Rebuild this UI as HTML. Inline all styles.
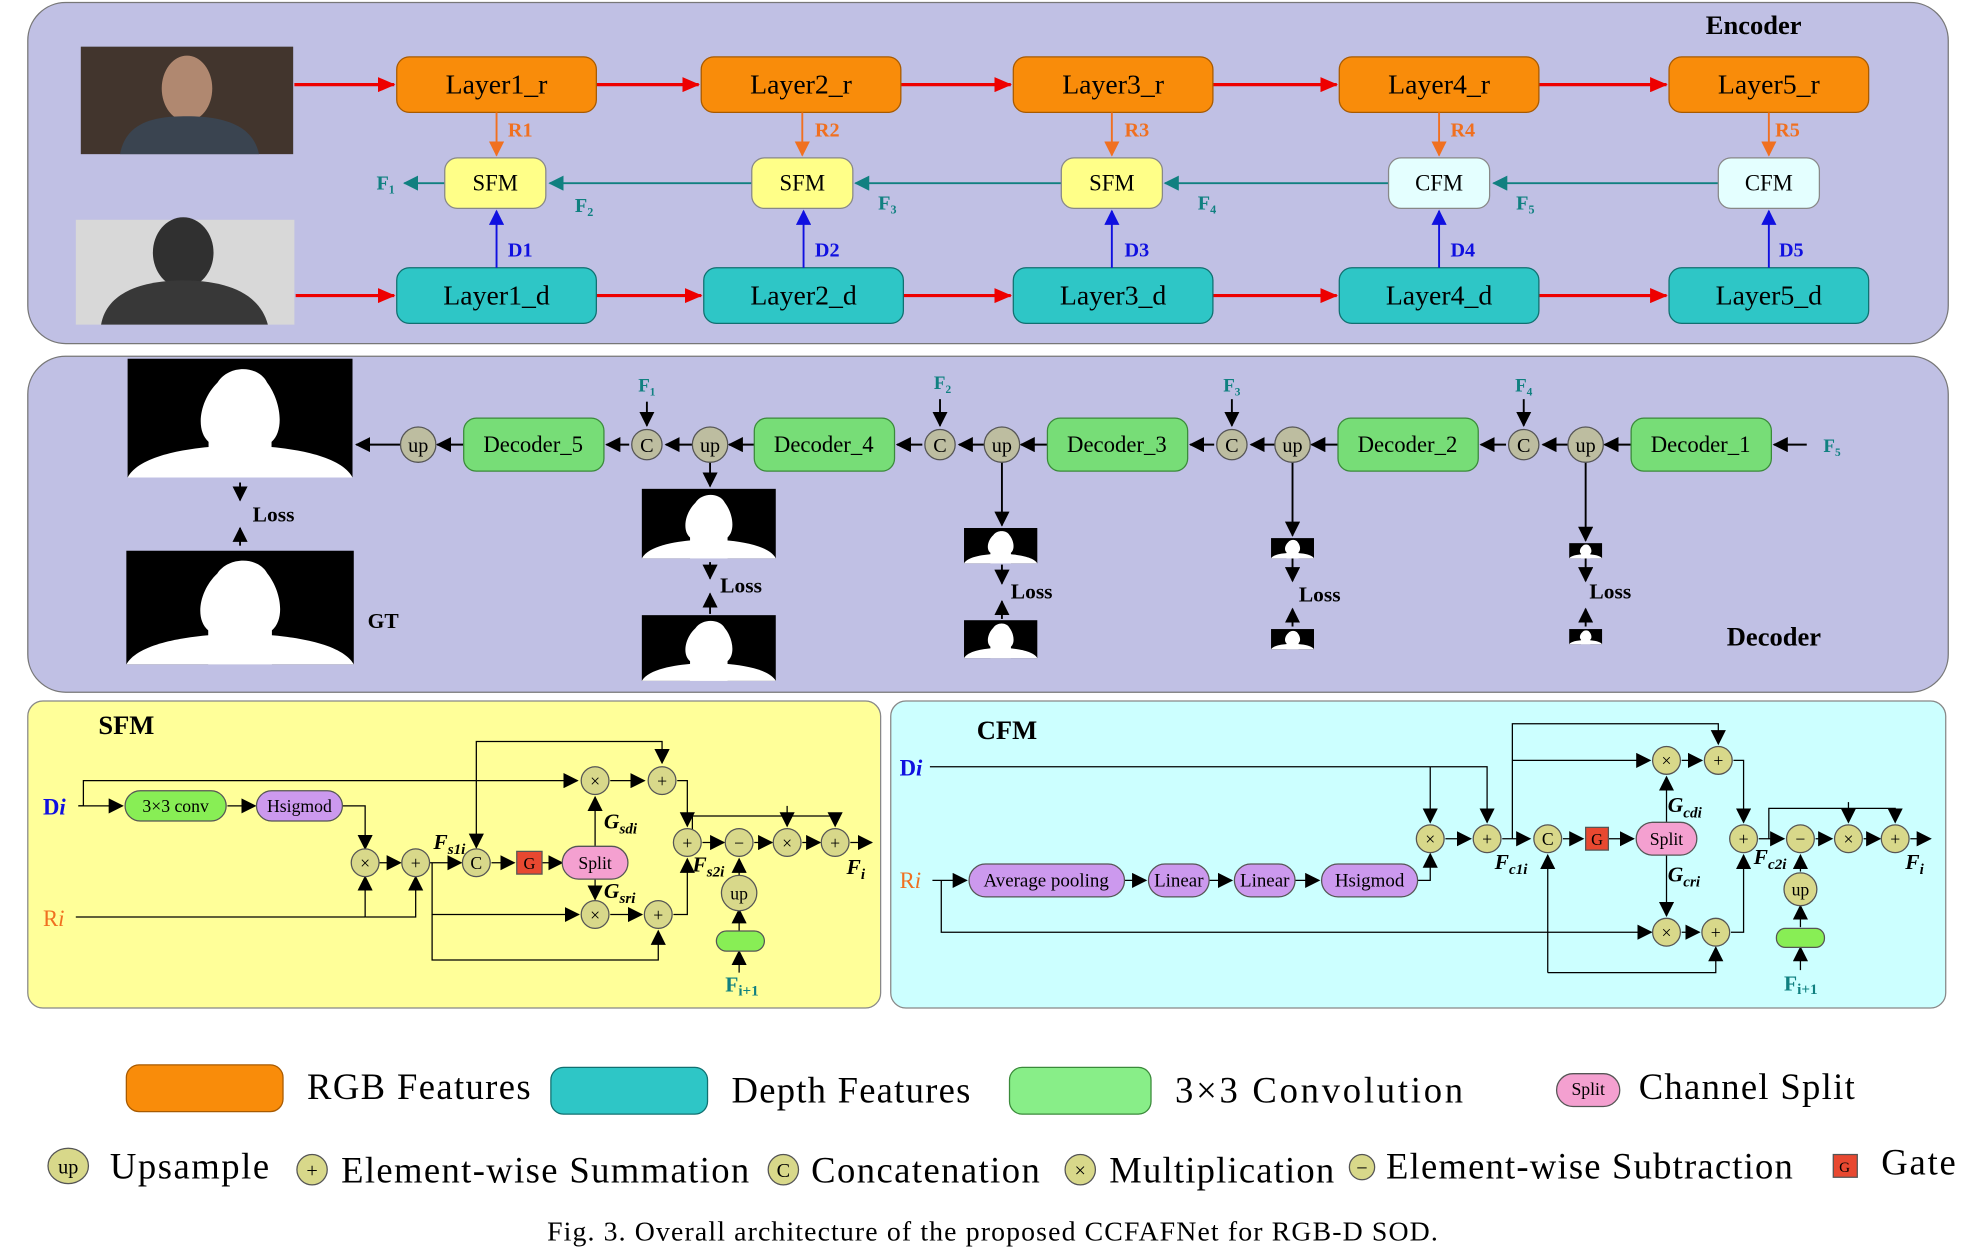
<!DOCTYPE html>
<html><head><meta charset="utf-8"><style>
html,body{margin:0;padding:0;background:#fff;}
svg{display:block;}
text{font-family:"Liberation Serif",serif;}
</style></head><body>
<svg width="1971" height="1248" viewBox="0 0 1560 988" preserveAspectRatio="none" xmlns="http://www.w3.org/2000/svg">
<defs>
<marker id="ab" markerWidth="14" markerHeight="12" refX="13" refY="6" orient="auto" markerUnits="userSpaceOnUse"><path d="M0,0L14,6L0,12z" fill="#e00"/></marker>
<marker id="ao" markerWidth="12" markerHeight="12" refX="11" refY="6" orient="auto" markerUnits="userSpaceOnUse"><path d="M0,0L12,6L0,12z" fill="#f07020"/></marker>
<marker id="au" markerWidth="12" markerHeight="12" refX="11" refY="6" orient="auto" markerUnits="userSpaceOnUse"><path d="M0,0L12,6L0,12z" fill="#1010e0"/></marker>
<marker id="at" markerWidth="12" markerHeight="12" refX="11" refY="6" orient="auto" markerUnits="userSpaceOnUse"><path d="M0,0L12,6L0,12z" fill="#108080"/></marker>
<marker id="ak" markerWidth="12" markerHeight="12" refX="11" refY="6" orient="auto" markerUnits="userSpaceOnUse"><path d="M0,0L12,6L0,12z" fill="#000"/></marker>
<g id="sil"><rect width="100" height="100" fill="#000"/><path d="M36,100 L36,70 C30,60 32,35 40,20 C45,5 58,5 62,20 C68,35 70,60 64,70 L64,100Z" fill="#fff"/><path d="M0,100 C5,82 25,76 38,74 L62,74 C75,76 95,82 100,100Z" fill="#fff"/></g>
</defs>

<rect x="22" y="2" width="1520" height="270" rx="30" fill="#c0c0e4" stroke="#777" stroke-width="1"/>
<text x="1388" y="27" font-size="21" font-weight="bold" text-anchor="middle">Encoder</text>
<rect x="64" y="37" width="168" height="85" fill="#2a2a2a"/>
<rect x="64" y="37" width="168" height="85" fill="#5a4030" opacity="0.5"/>
<ellipse cx="148" cy="70" rx="20" ry="26" fill="#b08870"/>
<path d="M95,122 C100,95 125,92 148,92 C175,92 200,98 205,122Z" fill="#3a4450"/>
<rect x="60" y="174" width="173" height="83" fill="#d8d8d8"/>
<ellipse cx="145" cy="200" rx="24" ry="28" fill="#303030"/>
<path d="M80,257 C85,228 120,222 145,222 C175,222 205,230 212,257Z" fill="#383838"/>

<g stroke="#e00" stroke-width="2.5" fill="none">
<line x1="233" y1="67" x2="312" y2="67" marker-end="url(#ab)"/>
<line x1="472" y1="67" x2="553" y2="67" marker-end="url(#ab)"/>
<line x1="713" y1="67" x2="800" y2="67" marker-end="url(#ab)"/>
<line x1="960" y1="67" x2="1058" y2="67" marker-end="url(#ab)"/>
<line x1="1218" y1="67" x2="1319" y2="67" marker-end="url(#ab)"/>
<line x1="234" y1="234" x2="312" y2="234" marker-end="url(#ab)"/>
<line x1="472" y1="234" x2="555" y2="234" marker-end="url(#ab)"/>
<line x1="715" y1="234" x2="800" y2="234" marker-end="url(#ab)"/>
<line x1="960" y1="234" x2="1058" y2="234" marker-end="url(#ab)"/>
<line x1="1218" y1="234" x2="1319" y2="234" marker-end="url(#ab)"/>
</g>
<g fill="#f98c0a" stroke="#a85a00">
<rect x="314" y="45" width="158" height="44" rx="10"/><rect x="555" y="45" width="158" height="44" rx="10"/><rect x="802" y="45" width="158" height="44" rx="10"/><rect x="1060" y="45" width="158" height="44" rx="10"/><rect x="1321" y="45" width="158" height="44" rx="10"/>
</g>
<g fill="#2ec6c6" stroke="#107070">
<rect x="314" y="212" width="158" height="44" rx="10"/><rect x="557" y="212" width="158" height="44" rx="10"/><rect x="802" y="212" width="158" height="44" rx="10"/><rect x="1060" y="212" width="158" height="44" rx="10"/><rect x="1321" y="212" width="158" height="44" rx="10"/>
</g>
<g font-size="22" text-anchor="middle">
<text x="393" y="74">Layer1_r</text><text x="634" y="74">Layer2_r</text><text x="881" y="74">Layer3_r</text><text x="1139" y="74">Layer4_r</text><text x="1400" y="74">Layer5_r</text>
<text x="393" y="241">Layer1_d</text><text x="636" y="241">Layer2_d</text><text x="881" y="241">Layer3_d</text><text x="1139" y="241">Layer4_d</text><text x="1400" y="241">Layer5_d</text>
</g>
<g stroke="#f07020" stroke-width="1.5"><line x1="393" y1="89" x2="393" y2="123" marker-end="url(#ao)"/><line x1="635" y1="89" x2="635" y2="123" marker-end="url(#ao)"/><line x1="880" y1="89" x2="880" y2="123" marker-end="url(#ao)"/><line x1="1139" y1="89" x2="1139" y2="123" marker-end="url(#ao)"/><line x1="1400" y1="89" x2="1400" y2="123" marker-end="url(#ao)"/></g>
<g stroke="#1010e0" stroke-width="1.5"><line x1="393" y1="212" x2="393" y2="167" marker-end="url(#au)"/><line x1="636" y1="212" x2="636" y2="167" marker-end="url(#au)"/><line x1="880" y1="212" x2="880" y2="167" marker-end="url(#au)"/><line x1="1139" y1="212" x2="1139" y2="167" marker-end="url(#au)"/><line x1="1400" y1="212" x2="1400" y2="167" marker-end="url(#au)"/></g>
<g stroke="#108080" stroke-width="1.5"><line x1="1360" y1="145" x2="1182" y2="145" marker-end="url(#at)"/><line x1="1099" y1="145" x2="922" y2="145" marker-end="url(#at)"/><line x1="840" y1="145" x2="677" y2="145" marker-end="url(#at)"/><line x1="595" y1="145" x2="435" y2="145" marker-end="url(#at)"/><line x1="352" y1="145" x2="320" y2="145" marker-end="url(#at)"/></g>
<g stroke="#888" stroke-width="1">
<rect x="352" y="125" width="80" height="40" rx="10" fill="#ffff88"/><rect x="595" y="125" width="80" height="40" rx="10" fill="#ffff88"/><rect x="840" y="125" width="80" height="40" rx="10" fill="#ffff88"/><rect x="1099" y="125" width="80" height="40" rx="10" fill="#e4ffff"/><rect x="1360" y="125" width="80" height="40" rx="10" fill="#e4ffff"/>
</g>
<g font-size="18" text-anchor="middle"><text x="392" y="151">SFM</text><text x="635" y="151">SFM</text><text x="880" y="151">SFM</text><text x="1139" y="151">CFM</text><text x="1400" y="151">CFM</text></g>
<g font-size="16" font-weight="bold" fill="#f07020"><text x="402" y="108">R1</text><text x="645" y="108">R2</text><text x="890" y="108">R3</text><text x="1148" y="108">R4</text><text x="1405" y="108">R5</text></g>
<g font-size="16" font-weight="bold" fill="#1010e0"><text x="402" y="203">D1</text><text x="645" y="203">D2</text><text x="890" y="203">D3</text><text x="1148" y="203">D4</text><text x="1408" y="203">D5</text></g>
<g font-size="16" font-weight="bold" fill="#108080"><text x="298" y="150">F₁</text><text x="455" y="168">F₂</text><text x="695" y="166">F₃</text><text x="948" y="166">F₄</text><text x="1200" y="166">F₅</text></g>

<rect x="22" y="282" width="1520" height="266" rx="30" fill="#c0c0e4" stroke="#777" stroke-width="1"/>
<text x="1404" y="511" font-size="21" font-weight="bold" text-anchor="middle">Decoder</text>
<g stroke="#000" stroke-width="1.5" fill="none">
<line x1="1430" y1="352" x2="1404" y2="352" marker-end="url(#ak)"/>
<line x1="1291" y1="352" x2="1270" y2="352" marker-end="url(#ak)"/>
<line x1="1241" y1="352" x2="1221" y2="352" marker-end="url(#ak)"/>
<line x1="1192" y1="352" x2="1172" y2="352" marker-end="url(#ak)"/>
<line x1="1059" y1="352" x2="1038" y2="352" marker-end="url(#ak)"/>
<line x1="1009" y1="352" x2="990" y2="352" marker-end="url(#ak)"/>
<line x1="961" y1="352" x2="942" y2="352" marker-end="url(#ak)"/>
<line x1="829" y1="352" x2="808" y2="352" marker-end="url(#ak)"/>
<line x1="779" y1="352" x2="759" y2="352" marker-end="url(#ak)"/>
<line x1="730" y1="352" x2="710" y2="352" marker-end="url(#ak)"/>
<line x1="597" y1="352" x2="577" y2="352" marker-end="url(#ak)"/>
<line x1="548" y1="352" x2="527" y2="352" marker-end="url(#ak)"/>
<line x1="498" y1="352" x2="480" y2="352" marker-end="url(#ak)"/>
<line x1="367" y1="352" x2="346" y2="352" marker-end="url(#ak)"/>
<line x1="317" y1="352" x2="282" y2="352" marker-end="url(#ak)"/>
<line x1="512" y1="318" x2="512" y2="337" marker-end="url(#ak)"/>
<line x1="744" y1="316" x2="744" y2="337" marker-end="url(#ak)"/>
<line x1="975" y1="316" x2="975" y2="337" marker-end="url(#ak)"/>
<line x1="1206" y1="316" x2="1206" y2="337" marker-end="url(#ak)"/>
<line x1="562" y1="366" x2="562" y2="385" marker-end="url(#ak)"/>
<line x1="793" y1="366" x2="793" y2="416" marker-end="url(#ak)"/>
<line x1="1023" y1="366" x2="1023" y2="424" marker-end="url(#ak)"/>
<line x1="1255" y1="366" x2="1255" y2="428" marker-end="url(#ak)"/>
<line x1="190" y1="382" x2="190" y2="396" marker-end="url(#ak)"/><line x1="190" y1="432" x2="190" y2="418" marker-end="url(#ak)"/>
<line x1="562" y1="445" x2="562" y2="458" marker-end="url(#ak)"/><line x1="562" y1="486" x2="562" y2="470" marker-end="url(#ak)"/>
<line x1="793" y1="447" x2="793" y2="462" marker-end="url(#ak)"/><line x1="793" y1="490" x2="793" y2="476" marker-end="url(#ak)"/>
<line x1="1023" y1="442" x2="1023" y2="460" marker-end="url(#ak)"/><line x1="1023" y1="496" x2="1023" y2="482" marker-end="url(#ak)"/>
<line x1="1255" y1="442" x2="1255" y2="460" marker-end="url(#ak)"/><line x1="1255" y1="496" x2="1255" y2="482" marker-end="url(#ak)"/>
</g>
<g fill="#77dd77" stroke="#3a8a3a">
<rect x="367" y="331" width="111" height="42" rx="10"/><rect x="597" y="331" width="111" height="42" rx="10"/><rect x="829" y="331" width="111" height="42" rx="10"/><rect x="1059" y="331" width="111" height="42" rx="10"/><rect x="1291" y="331" width="111" height="42" rx="10"/>
</g>
<g font-size="18" text-anchor="middle"><text x="422" y="358">Decoder_5</text><text x="652" y="358">Decoder_4</text><text x="884" y="358">Decoder_3</text><text x="1114" y="358">Decoder_2</text><text x="1346" y="358">Decoder_1</text></g>
<g fill="#bdbda0" stroke="#555">
<circle cx="331" cy="352" r="14"/><circle cx="512" cy="352" r="12"/><circle cx="562" cy="352" r="14"/><circle cx="744" cy="352" r="12"/><circle cx="793" cy="352" r="14"/><circle cx="975" cy="352" r="12"/><circle cx="1023" cy="352" r="14"/><circle cx="1206" cy="352" r="12"/><circle cx="1255" cy="352" r="14"/>
</g>
<g font-size="16" text-anchor="middle"><text x="331" y="358">up</text><text x="512" y="358">C</text><text x="562" y="358">up</text><text x="744" y="358">C</text><text x="793" y="358">up</text><text x="975" y="358">C</text><text x="1023" y="358">up</text><text x="1206" y="358">C</text><text x="1255" y="358">up</text></g>
<g font-size="15" font-weight="bold" fill="#108080" text-anchor="middle"><text x="512" y="310">F₁</text><text x="746" y="308">F₂</text><text x="975" y="310">F₃</text><text x="1206" y="310">F₄</text><text x="1450" y="358">F₅</text></g>
<g font-size="17" font-weight="bold"><text x="200" y="413">Loss</text><text x="570" y="469">Loss</text><text x="800" y="474">Loss</text><text x="1028" y="476">Loss</text><text x="1258" y="474">Loss</text><text x="291" y="497">GT</text></g>
<use href="#sil" transform="translate(101,284) scale(1.78,0.94)"/>
<use href="#sil" transform="translate(100,436) scale(1.8,0.9)"/>
<use href="#sil" transform="translate(508,387) scale(1.06,0.55)"/>
<use href="#sil" transform="translate(508,487) scale(1.06,0.52)"/>
<use href="#sil" transform="translate(763,418) scale(0.58,0.28)"/>
<use href="#sil" transform="translate(763,491) scale(0.58,0.3)"/>
<use href="#sil" transform="translate(1006,426) scale(0.34,0.16)"/>
<use href="#sil" transform="translate(1006,498) scale(0.34,0.16)"/>
<use href="#sil" transform="translate(1242,430) scale(0.26,0.12)"/>
<use href="#sil" transform="translate(1242,498) scale(0.26,0.12)"/>

<rect x="22" y="555" width="675" height="243" rx="12" fill="#ffff99" stroke="#888"/>
<text x="100" y="581" font-size="21" font-weight="bold" text-anchor="middle">SFM</text>
<g stroke="#000" stroke-width="1" fill="none">
<polyline points="62,638 66,638 66,618 457,618" marker-end="url(#ak)"/>
<line x1="62" y1="638" x2="97" y2="638" marker-end="url(#ak)"/>
<line x1="180" y1="638" x2="202" y2="638" marker-end="url(#ak)"/>
<polyline points="270,638 289,638 289,672" marker-end="url(#ak)"/>
<line x1="60" y1="726" x2="289" y2="726"/>
<line x1="289" y1="726" x2="289" y2="694" marker-end="url(#ak)"/>
<polyline points="289,726 329,726 329,694" marker-end="url(#ak)"/>
<line x1="300" y1="683" x2="317" y2="683" marker-end="url(#ak)"/>
<line x1="340" y1="683" x2="365" y2="683" marker-end="url(#ak)"/>
<polyline points="377,618 377,587 524,587 524,604" marker-end="url(#ak)"/>
<line x1="377" y1="618" x2="377" y2="671" marker-end="url(#ak)"/>
<line x1="389" y1="683" x2="407" y2="683" marker-end="url(#ak)"/>
<line x1="429" y1="683" x2="445" y2="683" marker-end="url(#ak)"/>
<line x1="471" y1="670" x2="471" y2="631" marker-end="url(#ak)"/>
<line x1="471" y1="696" x2="471" y2="712" marker-end="url(#ak)"/>
<line x1="483" y1="618" x2="510" y2="618" marker-end="url(#ak)"/>
<polyline points="342,683 342,724 458,724" marker-end="url(#ak)"/>
<polyline points="342,724 342,760 521,760 521,737" marker-end="url(#ak)"/>
<line x1="483" y1="724" x2="508" y2="724" marker-end="url(#ak)"/>
<polyline points="536,618 544,618 544,654" marker-end="url(#ak)"/>
<polyline points="533,724 544,724 544,680" marker-end="url(#ak)"/>
<line x1="556" y1="667" x2="573" y2="667" marker-end="url(#ak)"/>
<polyline points="548,667 548,646 661,646 661,654" marker-end="url(#ak)"/>
<line x1="623" y1="638" x2="623" y2="654" marker-end="url(#ak)"/>
<line x1="597" y1="667" x2="611" y2="667" marker-end="url(#ak)"/>
<line x1="635" y1="667" x2="649" y2="667" marker-end="url(#ak)"/>
<line x1="673" y1="667" x2="690" y2="667" marker-end="url(#ak)"/>
<line x1="585" y1="694" x2="585" y2="680" marker-end="url(#ak)"/>
<line x1="585" y1="737" x2="585" y2="720" marker-end="url(#ak)"/>
<line x1="585" y1="770" x2="585" y2="753" marker-end="url(#ak)"/>
</g>
<rect x="99" y="626" width="80" height="24" rx="12" fill="#88ee55" stroke="#555"/><text x="139" y="643" font-size="14" text-anchor="middle">3×3 conv</text>
<rect x="203" y="626" width="68" height="24" rx="12" fill="#cc99ee" stroke="#555"/><text x="237" y="643" font-size="14" text-anchor="middle">Hsigmod</text>
<rect x="409" y="674" width="20" height="18" fill="#e84830" stroke="#555"/><text x="419" y="688" font-size="13" text-anchor="middle">G</text>
<rect x="445" y="670" width="52" height="26" rx="13" fill="#f4a0d0" stroke="#555"/><text x="471" y="688" font-size="14" text-anchor="middle">Split</text>
<rect x="567" y="737" width="38" height="16" rx="8" fill="#88ee55" stroke="#555"/>
<g fill="#d8d88a" stroke="#555">
<circle cx="289" cy="683" r="11"/><circle cx="329" cy="683" r="11"/><circle cx="377" cy="683" r="11"/><circle cx="471" cy="618" r="11"/><circle cx="524" cy="618" r="11"/><circle cx="471" cy="724" r="11"/><circle cx="521" cy="724" r="11"/><circle cx="544" cy="667" r="11"/><circle cx="585" cy="667" r="11"/><circle cx="623" cy="667" r="11"/><circle cx="661" cy="667" r="11"/>
<ellipse cx="585" cy="707" rx="14" ry="14"/>
</g>
<g font-size="14" text-anchor="middle"><text x="289" y="688">×</text><text x="329" y="688">+</text><text x="377" y="688">C</text><text x="471" y="623">×</text><text x="524" y="623">+</text><text x="471" y="729">×</text><text x="521" y="729">+</text><text x="544" y="672">+</text><text x="585" y="672">−</text><text x="623" y="672">×</text><text x="661" y="672">+</text><text x="585" y="712">up</text></g>
<text x="34" y="645" font-size="18" font-weight="bold" fill="#1010e0">D<tspan font-style="italic">i</tspan></text>
<text x="34" y="733" font-size="18" fill="#f07020">R<tspan font-style="italic">i</tspan></text>
<g font-size="17" font-weight="bold" font-style="italic"><text x="343" y="672">F<tspan font-size="12" dy="4">s1i</tspan></text><text x="478" y="656">G<tspan font-size="12" dy="4">sdi</tspan></text><text x="478" y="711">G<tspan font-size="12" dy="4">sri</tspan></text><text x="548" y="690">F<tspan font-size="12" dy="4">s2i</tspan></text><text x="670" y="692">F<tspan font-size="12" dy="4">i</tspan></text></g>
<text x="574" y="785" font-size="17" font-weight="bold" fill="#108080">F<tspan font-size="12" dy="3">i+1</tspan></text>

<rect x="705" y="555" width="835" height="243" rx="12" fill="#ccffff" stroke="#888"/>
<text x="797" y="585" font-size="21" font-weight="bold" text-anchor="middle">CFM</text>
<g stroke="#000" stroke-width="1" fill="none">
<line x1="736" y1="607" x2="1132" y2="607"/>
<line x1="1132" y1="607" x2="1132" y2="651" marker-end="url(#ak)"/>
<polyline points="1132,607 1177,607 1177,651" marker-end="url(#ak)"/>
<line x1="738" y1="697" x2="765" y2="697" marker-end="url(#ak)"/>
<polyline points="745,697 745,738 1307,738" marker-end="url(#ak)"/>
<line x1="890" y1="697" x2="907" y2="697" marker-end="url(#ak)"/>
<line x1="957" y1="697" x2="975" y2="697" marker-end="url(#ak)"/>
<line x1="1025" y1="697" x2="1044" y2="697" marker-end="url(#ak)"/>
<polyline points="1122,697 1132,697 1132,676" marker-end="url(#ak)"/>
<line x1="1144" y1="664" x2="1164" y2="664" marker-end="url(#ak)"/>
<line x1="1189" y1="664" x2="1211" y2="664" marker-end="url(#ak)"/>
<line x1="1237" y1="664" x2="1253" y2="664" marker-end="url(#ak)"/>
<line x1="1273" y1="664" x2="1293" y2="664" marker-end="url(#ak)"/>
<polyline points="1197,664 1197,573 1360,573 1360,589" marker-end="url(#ak)"/>
<polyline points="1197,602 1306,602" marker-end="url(#ak)"/>
<line x1="1331" y1="602" x2="1347" y2="602" marker-end="url(#ak)"/>
<polyline points="1225,770 1358,770 1358,750" marker-end="url(#ak)"/>
<line x1="1225" y1="770" x2="1225" y2="677" marker-end="url(#ak)"/>
<line x1="1319" y1="651" x2="1319" y2="615" marker-end="url(#ak)"/>
<line x1="1319" y1="677" x2="1319" y2="725" marker-end="url(#ak)"/>
<line x1="1331" y1="738" x2="1345" y2="738" marker-end="url(#ak)"/>
<polyline points="1372,602 1380,602 1380,651" marker-end="url(#ak)"/>
<polyline points="1370,738 1380,738 1380,677" marker-end="url(#ak)"/>
<line x1="1392" y1="664" x2="1412" y2="664" marker-end="url(#ak)"/>
<polyline points="1400,664 1400,640 1500,640 1500,651" marker-end="url(#ak)"/>
<line x1="1463" y1="635" x2="1463" y2="651" marker-end="url(#ak)"/>
<line x1="1437" y1="664" x2="1450" y2="664" marker-end="url(#ak)"/>
<line x1="1475" y1="664" x2="1488" y2="664" marker-end="url(#ak)"/>
<line x1="1512" y1="664" x2="1528" y2="664" marker-end="url(#ak)"/>
<line x1="1425" y1="690" x2="1425" y2="677" marker-end="url(#ak)"/>
<line x1="1425" y1="734" x2="1425" y2="717" marker-end="url(#ak)"/>
<line x1="1425" y1="768" x2="1425" y2="750" marker-end="url(#ak)"/>
</g>
<rect x="767" y="684" width="123" height="26" rx="13" fill="#cc99ee" stroke="#555"/><text x="828" y="702" font-size="15" text-anchor="middle">Average pooling</text>
<rect x="909" y="684" width="48" height="26" rx="13" fill="#cc99ee" stroke="#555"/><text x="933" y="702" font-size="15" text-anchor="middle">Linear</text>
<rect x="977" y="684" width="48" height="26" rx="13" fill="#cc99ee" stroke="#555"/><text x="1001" y="702" font-size="15" text-anchor="middle">Linear</text>
<rect x="1046" y="684" width="76" height="26" rx="13" fill="#cc99ee" stroke="#555"/><text x="1084" y="702" font-size="15" text-anchor="middle">Hsigmod</text>
<rect x="1255" y="655" width="18" height="18" fill="#e84830" stroke="#555"/><text x="1264" y="669" font-size="13" text-anchor="middle">G</text>
<rect x="1295" y="651" width="48" height="26" rx="13" fill="#f4a0d0" stroke="#555"/><text x="1319" y="669" font-size="14" text-anchor="middle">Split</text>
<rect x="1406" y="735" width="38" height="15" rx="7" fill="#88ee55" stroke="#555"/>
<g fill="#d8d88a" stroke="#555">
<circle cx="1132" cy="664" r="11"/><circle cx="1177" cy="664" r="11"/><circle cx="1225" cy="664" r="11"/><circle cx="1319" cy="602" r="11"/><circle cx="1360" cy="602" r="11"/><circle cx="1319" cy="738" r="11"/><circle cx="1358" cy="738" r="11"/><circle cx="1380" cy="664" r="11"/><circle cx="1425" cy="664" r="11"/><circle cx="1463" cy="664" r="11"/><circle cx="1500" cy="664" r="11"/><circle cx="1425" cy="704" r="13"/>
</g>
<g font-size="14" text-anchor="middle"><text x="1132" y="669">×</text><text x="1177" y="669">+</text><text x="1225" y="669">C</text><text x="1319" y="607">×</text><text x="1360" y="607">+</text><text x="1319" y="743">×</text><text x="1358" y="743">+</text><text x="1380" y="669">+</text><text x="1425" y="669">−</text><text x="1463" y="669">×</text><text x="1500" y="669">+</text><text x="1425" y="709">up</text></g>
<text x="712" y="614" font-size="18" font-weight="bold" fill="#1010e0">D<tspan font-style="italic">i</tspan></text>
<text x="712" y="703" font-size="18" fill="#f07020">R<tspan font-style="italic">i</tspan></text>
<g font-size="17" font-weight="bold" font-style="italic"><text x="1183" y="688">F<tspan font-size="12" dy="4">c1i</tspan></text><text x="1320" y="643">G<tspan font-size="12" dy="4">cdi</tspan></text><text x="1320" y="698">G<tspan font-size="12" dy="4">cri</tspan></text><text x="1388" y="684">F<tspan font-size="12" dy="4">c2i</tspan></text><text x="1508" y="688">F<tspan font-size="12" dy="4">i</tspan></text></g>
<text x="1412" y="784" font-size="17" font-weight="bold" fill="#108080">F<tspan font-size="12" dy="3">i+1</tspan></text>

<rect x="100" y="843" width="124" height="37" rx="10" fill="#f98c0a" stroke="#a85a00"/>
<text x="243" y="870" font-size="29" textLength="177">RGB Features</text>
<rect x="436" y="845" width="124" height="37" rx="10" fill="#2ec6c6" stroke="#107070"/>
<text x="579" y="873" font-size="29" textLength="189">Depth Features</text>
<rect x="799" y="845" width="112" height="37" rx="10" fill="#88ee88" stroke="#3a8a3a"/>
<text x="930" y="873" font-size="29" textLength="228">3×3   Convolution</text>
<rect x="1232" y="850" width="50" height="26" rx="13" fill="#f4a0d0" stroke="#555"/><text x="1257" y="867" font-size="14" text-anchor="middle">Split</text>
<text x="1297" y="870" font-size="29" textLength="171">Channel Split</text>
<g fill="#d8d88a" stroke="#555"><ellipse cx="54" cy="923" rx="16" ry="14"/><circle cx="247" cy="926" r="12"/><circle cx="620" cy="926" r="12"/><circle cx="855" cy="926" r="12"/><circle cx="1078" cy="924" r="10"/></g>
<rect x="1451" y="914" width="19" height="18" fill="#e84830" stroke="#555"/><text x="1460" y="928" font-size="12" text-anchor="middle">G</text>
<g font-size="16" text-anchor="middle"><text x="54" y="929">up</text><text x="247" y="932">+</text><text x="620" y="932">C</text><text x="855" y="932">×</text><text x="1078" y="930">−</text></g>
<g font-size="29"><text x="87" y="933" textLength="126">Upsample</text><text x="270" y="936" textLength="323">Element-wise Summation</text><text x="642" y="936" textLength="181">Concatenation</text><text x="878" y="936" textLength="178">Multiplication</text><text x="1097" y="933" textLength="322">Element-wise Subtraction</text><text x="1489" y="930" textLength="59">Gate</text></g>
<text x="433" y="982" font-size="22" textLength="705">Fig. 3. Overall architecture of the proposed CCFAFNet for RGB-D SOD.</text>
</svg>
</body></html>
